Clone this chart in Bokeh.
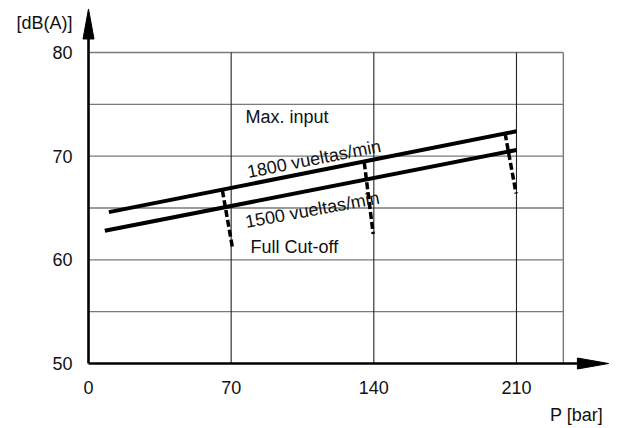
from bokeh.plotting import figure
from bokeh.models import Range1d
from bokeh.core.properties import value
from bokeh.embed import file_html
from bokeh.resources import INLINE
import math

# ---- data ----
x_ticks = [0, 70, 140, 210]
x_tick_labels = ["0", "70", "140", "210"]
y_ticks = [50, 60, 70, 80]
y_tick_labels = ["50", "60", "70", "80"]
grid_y = [55, 60, 65, 70, 75, 80]
grid_x = [70, 140, 210]
box_x_end = 233
box_y_end = 80
axis_x_end = 255.2
axis_y_end = 84.2

p_1800 = [10, 210]
db_1800 = [64.6, 72.4]
p_1500 = [8, 210]
db_1500 = [62.8, 70.6]

cut_p = [[65.7, 70.6], [135.3, 139.7], [204.4, 209.8]]
cut_db = [[66.7, 61.2], [69.4, 62.5], [72.2, 66.4]]

FONT = "Liberation Sans"
FS = "18px"
SX = 2.038   # px per bar
SY = 10.367  # px per dB

W, H = 617, 428
X0PX, Y50PX = 88, 363
p = figure(width=W, height=H, output_backend="svg", toolbar_location=None,
           x_range=Range1d(-X0PX / SX, (W - X0PX) / SX),
           y_range=Range1d(50 - (H - Y50PX) / SY, 50 + Y50PX / SY),
           min_border_left=0, min_border_right=0, min_border_top=0, min_border_bottom=0)
p.outline_line_color = None
p.grid.visible = False
p.axis.visible = False
p.background_fill_color = "white"
p.border_fill_color = "white"

# grid
p.multi_line(xs=[[0, box_x_end] for _ in grid_y], ys=[[g, g] for g in grid_y],
             line_color="#7a7a7a", line_width=1.4)
p.line(x=[box_x_end, box_x_end], y=[50, box_y_end], line_color="#7a7a7a", line_width=1.4)
p.multi_line(xs=[[g, g] for g in grid_x], ys=[[50, box_y_end] for _ in grid_x],
             line_color="#222222", line_width=1.1)

# axes with arrows
p.line(x=[0, 0], y=[50, axis_y_end - 2.6], line_color="black", line_width=2.6)
p.line(x=[0, axis_x_end - 14], y=[50, 50], line_color="black", line_width=2.6)
hx = 5.5 / SX
hy = 5.5 / SY
p.patch(x=[0, -hx, hx], y=[axis_y_end, axis_y_end - 2.9, axis_y_end - 2.9], color="black")
p.patch(x=[axis_x_end, axis_x_end - 15.3, axis_x_end - 15.3], y=[50, 50 + hy, 50 - hy], color="black")

# tick labels
p.text(x=x_ticks, y=[50] * len(x_ticks), text=x_tick_labels, y_offset=24,
       text_align="center", text_baseline="middle",
       text_font=value(FONT), text_font_size=FS, text_color="#111111")
p.text(x=[0] * len(y_ticks), y=y_ticks, text=y_tick_labels, x_offset=-16,
       text_align="right", text_baseline="middle",
       text_font=value(FONT), text_font_size=FS, text_color="#111111")

# curves
p.line(x=p_1800, y=db_1800, line_color="black", line_width=4)
p.line(x=p_1500, y=db_1500, line_color="black", line_width=4)
p.multi_line(xs=cut_p, ys=cut_db, line_color="black", line_width=3.5, line_dash="7 3")

def lab(x, y, text, angle=0.0, align="left", baseline="middle", xoff=0):
    p.text(x=[x], y=[y], text=[text], angle=math.radians(angle), x_offset=xoff,
           text_align=align, text_baseline=baseline,
           text_font=value(FONT), text_font_size=FS, text_color="#111111")

lab(77.0, 73.73, "Max. input")
lab(77.9, 68.45, "1800 vueltas/min", angle=11.2, baseline="alphabetic")
lab(77.0, 63.63, "1500 vueltas/min", angle=10.4, baseline="alphabetic")
lab(79.5, 61.22, "Full Cut-off")
lab(0, 82.8, "[dB(A)]", align="right", xoff=-16)
lab(252.5, 44.99, "P [bar]", align="right")

open("out.html", "w").write(file_html(p, INLINE))
